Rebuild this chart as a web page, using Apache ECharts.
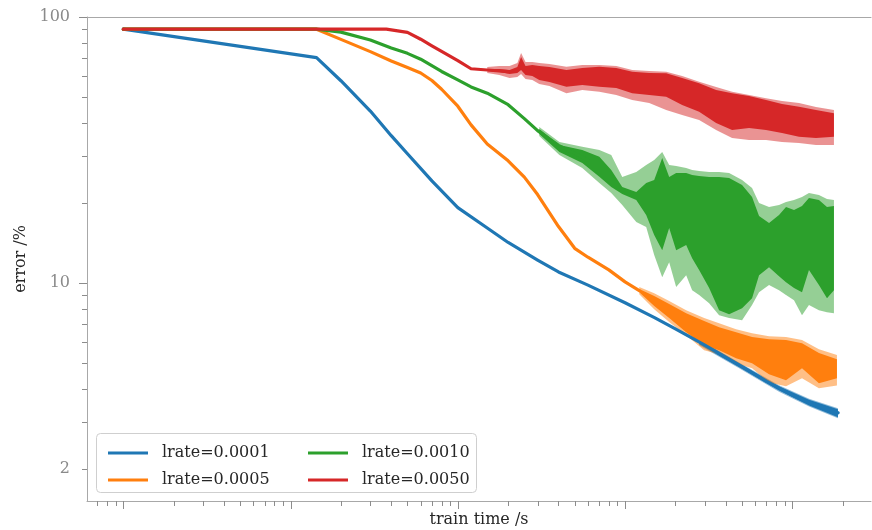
<!DOCTYPE html>
<html>
<head>
<meta charset="utf-8">
<script src="https://cdn.jsdelivr.net/npm/echarts@6/dist/echarts.min.js"></script>
<style>html,body{margin:0;padding:0;background:#fff}#c{width:872px;height:530px}</style>
</head>
<body>
<div id="c"></div>
<script>
// ---------- data ----------
const seriesNames = ['lrate=0.0001', 'lrate=0.0005', 'lrate=0.0010', 'lrate=0.0050'];
const seriesColors = ['#1f77b4', '#ff7f0e', '#2ca02c', '#d62728'];
const bandColors = ['rgba(31,119,180,0.5)', 'rgba(255,127,14,0.5)', 'rgba(44,160,44,0.5)', 'rgba(214,39,40,0.5)'];

// lrate=0.0001 (blue)
const blueX = [1, 14.3, 20, 30, 40, 50, 70, 100, 150, 200, 300, 400, 600, 1000, 1500, 2000, 3000, 5000, 7000, 10000, 12000, 15000, 18800];
const blueY = [90, 70.4, 57.6, 44.3, 35.8, 30.6, 24.2, 19.2, 16.1, 14.2, 12.2, 11.0, 9.82, 8.43, 7.41, 6.72, 5.84, 4.85, 4.27, 3.79, 3.59, 3.41, 3.25];
const blueBandX = [2770, 4810, 8330, 12600, 18750];
const blueDarkLo = [5.89, 4.82, 3.94, 3.46, 3.13];
const blueDarkHi = [6.10, 4.99, 4.09, 3.64, 3.35];
const blueLightLo = [5.84, 4.78, 3.90, 3.43, 3.10];
const blueLightHi = [6.15, 5.03, 4.13, 3.67, 3.38];

// lrate=0.0005 (orange)
const orangeX = [1, 14.3, 20, 30, 40, 50, 60, 70, 80, 100, 120, 150, 200, 250, 300, 400, 500, 600, 800, 1000, 1216];
const orangeY = [90, 90, 82.4, 74.1, 68.3, 64.6, 61.6, 57.7, 53.5, 46.2, 39.3, 33.3, 28.8, 25.0, 21.5, 16.3, 13.5, 12.5, 11.2, 10.1, 9.37];
const orangeBandX = [1216, 1494, 1836, 2320, 2971, 3651, 4612, 5746, 7260, 9170, 11430, 14430, 18490];
const orangeDarkHi = [9.49, 8.93, 8.33, 7.70, 7.19, 6.82, 6.53, 6.26, 6.15, 6.10, 5.94, 5.45, 5.17];
const orangeDarkLo = [9.24, 8.19, 7.38, 6.53, 5.84, 5.59, 5.21, 4.99, 4.54, 4.31, 4.78, 4.20, 4.38];
const orangeLightHi = [9.65, 9.16, 8.55, 7.90, 7.38, 7.06, 6.70, 6.47, 6.31, 6.26, 6.10, 5.64, 5.36];
const orangeLightLo = [9.08, 7.97, 7.13, 6.36, 5.59, 5.40, 4.99, 4.78, 4.23, 4.09, 4.38, 4.02, 4.12];

// lrate=0.0010 (green)
const greenX = [1, 14.3, 20, 30, 40, 50, 60, 80, 100, 120, 150, 200, 250, 300, 400, 500, 600];
const greenY = [90, 90, 87.7, 82.0, 76.5, 73.0, 69.4, 62.4, 58.0, 54.6, 51.7, 46.8, 41.5, 37.4, 32.9, 30.7, 29.0];
const greenBandX = [307, 405, 555, 702, 827, 962, 1167, 1338, 1494, 1668, 1836, 2021, 2320, 2519, 2773, 3183, 3651, 4190, 5008, 5746, 6327, 7260, 8330, 9170, 10240, 11430, 12580, 14430, 16120, 17740];
const greenDarkHi = [37.92, 33.02, 31.61, 29.83, 26.58, 22.94, 21.97, 23.75, 24.38, 29.49, 25.02, 25.90, 25.90, 25.46, 25.24, 25.02, 25.02, 24.80, 23.35, 21.04, 17.85, 16.80, 18.00, 19.29, 18.80, 19.46, 20.86, 20.50, 19.29, 19.46];
const greenDarkLo = [36.32, 31.07, 28.24, 25.08, 22.94, 21.59, 20.50, 18.00, 15.14, 13.29, 16.08, 13.29, 13.89, 12.40, 11.18, 9.57, 7.90, 7.63, 8.04, 8.77, 10.70, 11.47, 10.61, 10.07, 9.57, 9.24, 11.18, 9.82, 8.77, 9.40];
const greenLightHi = [38.58, 33.88, 32.54, 31.61, 30.27, 25.02, 26.13, 27.76, 28.99, 31.07, 27.76, 27.52, 27.04, 26.58, 26.35, 26.13, 26.13, 25.90, 24.38, 22.74, 19.98, 19.29, 19.63, 20.15, 20.50, 21.04, 21.78, 21.41, 20.68, 20.50];
const greenLightLo = [35.69, 30.27, 27.04, 23.75, 21.78, 19.63, 16.94, 16.22, 12.73, 10.52, 11.98, 9.65, 10.70, 9.40, 9.01, 8.40, 7.57, 7.38, 7.25, 8.26, 9.24, 9.82, 9.40, 9.01, 8.62, 7.57, 8.26, 7.90, 7.77, 7.70];

// lrate=0.0050 (red)
const redX = [1, 37.4, 50, 60, 70, 80, 100, 120, 150, 200];
const redY = [90, 90, 87.6, 82.5, 77.9, 74.2, 68.6, 63.9, 63.2, 62.3];
const redBandX = [150, 177, 204, 227, 239, 254, 279, 307, 353, 446, 555, 702, 886, 1104, 1395, 1762, 2195, 2773, 3504, 4365, 5514, 6966, 8680, 10965, 13850, 17740];
const redDarkHi = [63.73, 63.73, 63.18, 64.84, 70.71, 65.41, 65.99, 65.41, 64.84, 63.18, 64.28, 65.0, 64.28, 62.27, 61.56, 61.4, 58.95, 56.3, 53.13, 51.64, 50.45, 48.72, 47.07, 45.97, 44.68, 43.42];
const redDarkLo = [62.64, 62.10, 61.03, 61.56, 63.18, 60.51, 59.98, 57.94, 56.95, 54.67, 55.49, 54.67, 54.06, 51.64, 50.89, 50.13, 46.66, 44.0, 39.94, 37.59, 38.25, 37.59, 36.63, 35.48, 35.08, 35.48];
const redLightHi = [64.84, 65.41, 65.41, 67.13, 73.21, 67.72, 67.72, 67.13, 66.56, 65.0, 65.99, 65.99, 65.41, 63.18, 62.64, 62.27, 59.98, 57.1, 54.53, 52.34, 50.89, 49.44, 48.30, 47.47, 45.85, 44.68];
const redLightLo = [61.56, 60.51, 58.95, 59.46, 61.03, 58.44, 57.94, 55.97, 55.01, 51.64, 53.13, 52.34, 50.89, 48.72, 47.47, 44.68, 42.79, 40.99, 37.59, 35.08, 34.47, 34.47, 33.88, 33.59, 33.02, 33.02];

// axes
const X_MIN = 0.6067, X_MAX = 29550;
const Y_MIN = 1.515, Y_MAX = 100;
const xMajorTicks = [1, 10, 100, 1000, 10000];
const xMinorTicks = [0.7, 0.8, 0.9, 2, 3, 4, 5, 6, 7, 8, 9, 20, 30, 40, 50, 60, 70, 80, 90,
  200, 300, 400, 500, 600, 700, 800, 900, 2000, 3000, 4000, 5000, 6000, 7000, 8000, 9000, 20000];
const yMajorTicks = [10, 100];
const yMinorTicks = [2, 3, 4, 5, 6, 7, 8, 9, 20, 30, 40, 50, 60, 70, 80, 90];
const yLabelValues = [2, 10, 100];
const yLabelTexts = ['2', '10', '100'];

// ---------- chart ----------
const FONT = 'DejaVu Serif';
const TICK_COLOR = '#8c8c8c';
const SPINE_COLOR = '#a8a8a8';

function band(xs, lo, hi, fill) {
  return {
    type: 'custom', silent: true, clip: true, z: 2,
    data: xs.map((x, i) => [x, lo[i], hi[i]]),
    encode: { x: 0, y: [1, 2] },
    renderItem(params, api) {
      if (params.dataIndex !== 0) return null;
      const pts = [];
      for (let i = 0; i < xs.length; i++) pts.push(api.coord([xs[i], hi[i]]));
      for (let i = xs.length - 1; i >= 0; i--) pts.push(api.coord([xs[i], lo[i]]));
      return { type: 'polygon', shape: { points: pts }, style: { fill: fill } };
    }
  };
}
function line(name, xs, ys, color) {
  return {
    type: 'line', name: name, z: 2, symbol: 'none', showSymbol: false, clip: true,
    data: xs.map((x, i) => [x, ys[i]]),
    lineStyle: { width: 3.2, color: color, cap: 'round', join: 'round' },
    itemStyle: { color: color }
  };
}
function xTicks(values, len) {
  return {
    type: 'custom', silent: true, clip: false, z: 5,
    data: values.map(v => [v, Y_MIN]), encode: { x: 0, y: 1 },
    renderItem(params, api) {
      const p = api.coord([api.value(0), api.value(1)]);
      const x = Math.round(p[0]) + 0.5;
      return { type: 'line', shape: { x1: x, y1: p[1], x2: x, y2: p[1] + len }, style: { stroke: TICK_COLOR, lineWidth: 1 } };
    }
  };
}
function yTicks(values, len) {
  return {
    type: 'custom', silent: true, clip: false, z: 5,
    data: values.map(v => [X_MIN, v]), encode: { x: 0, y: 1 },
    renderItem(params, api) {
      const p = api.coord([api.value(0), api.value(1)]);
      const y = Math.round(p[1]) + 0.5;
      return { type: 'line', shape: { x1: p[0] - len, y1: y, x2: p[0], y2: y }, style: { stroke: TICK_COLOR, lineWidth: 1 } };
    }
  };
}
function yLabels() {
  return {
    type: 'custom', silent: true, clip: false, z: 5,
    data: yLabelValues.map(v => [X_MIN, v]), encode: { x: 0, y: 1 },
    renderItem(params, api) {
      const p = api.coord([api.value(0), api.value(1)]);
      return { type: 'text', x: p[0] - 17, y: p[1],
        style: { text: yLabelTexts[params.dataIndex], textAlign: 'right', verticalAlign: 'middle',
          fontFamily: FONT, fontSize: 16, fill: '#8a8a8a' } };
    }
  };
}

const series = [
  band(blueBandX, blueLightLo, blueLightHi, bandColors[0]),
  band(blueBandX, blueDarkLo, blueDarkHi, seriesColors[0]),
  line(seriesNames[0], blueX, blueY, seriesColors[0]),
  band(orangeBandX, orangeLightLo, orangeLightHi, bandColors[1]),
  band(orangeBandX, orangeDarkLo, orangeDarkHi, seriesColors[1]),
  line(seriesNames[1], orangeX, orangeY, seriesColors[1]),
  band(greenBandX, greenLightLo, greenLightHi, bandColors[2]),
  band(greenBandX, greenDarkLo, greenDarkHi, seriesColors[2]),
  line(seriesNames[2], greenX, greenY, seriesColors[2]),
  band(redBandX, redLightLo, redLightHi, bandColors[3]),
  band(redBandX, redDarkLo, redDarkHi, seriesColors[3]),
  line(seriesNames[3], redX, redY, seriesColors[3]),
  xTicks(xMajorTicks, 8), xTicks(xMinorTicks, 5),
  yTicks(yMajorTicks, 8), yTicks(yMinorTicks, 5),
  yLabels()
];

const legendCommon = {
  orient: 'vertical', top: 438, itemWidth: 40, itemHeight: 3, itemGap: 7, icon: 'rect',
  z: 6, selectedMode: false,
  textStyle: { fontFamily: FONT, fontSize: 16, color: '#262626', lineHeight: 20, padding: [0, 0, 0, 9] }
};

const chart = echarts.init(document.getElementById('c'), null, { renderer: 'canvas' });
chart.setOption({
  animation: false,
  backgroundColor: '#ffffff',
  grid: { left: 87, right: 1, top: 17, bottom: 29, containLabel: false, outerBoundsMode: 'none' },
  xAxis: [{
    type: 'log', logBase: 10, min: X_MIN, max: X_MAX,
    axisLine: { show: true, onZero: false, lineStyle: { color: SPINE_COLOR, width: 1 } },
    axisTick: { show: false }, axisLabel: { show: false }, splitLine: { show: false }, minorTick: { show: false },
    name: 'train time /s', nameLocation: 'middle', nameGap: 11,
    nameTextStyle: { fontFamily: FONT, fontSize: 16, color: '#262626', verticalAlign: 'top' }
  }, {
    type: 'log', logBase: 10, min: X_MIN, max: X_MAX, position: 'top',
    axisLine: { show: true, onZero: false, lineStyle: { color: SPINE_COLOR, width: 1 } },
    axisTick: { show: false }, axisLabel: { show: false }, splitLine: { show: false }
  }],
  yAxis: [{
    type: 'log', logBase: 10, min: Y_MIN, max: Y_MAX,
    axisLine: { show: true, onZero: false, lineStyle: { color: SPINE_COLOR, width: 1 } },
    axisTick: { show: false }, axisLabel: { show: false }, splitLine: { show: false },
    name: 'error /%', nameLocation: 'middle', nameGap: 58, nameRotate: 90,
    nameTextStyle: { fontFamily: FONT, fontSize: 16, color: '#262626' }
  }],
  legend: [
    Object.assign({}, legendCommon, { left: 103, data: [seriesNames[0], seriesNames[1]] }),
    Object.assign({}, legendCommon, { left: 303, data: [seriesNames[2], seriesNames[3]] })
  ],
  graphic: [{
    type: 'rect', z: 5, silent: true,
    shape: { x: 96.5, y: 433.5, width: 380, height: 59, r: 4 },
    style: { fill: 'rgba(255,255,255,0.8)', stroke: '#cfcfcf', lineWidth: 1 }
  }],
  series: series
});
</script>
</body>
</html>
